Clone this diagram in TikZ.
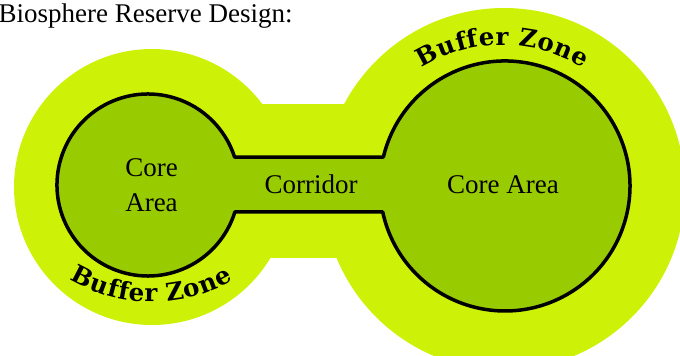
\documentclass[tikz,border=0pt]{standalone}
\usepackage{fontspec}
\setmainfont{Liberation Serif}
\newfontfamily\bufferfont{DejaVu Serif}
\usetikzlibrary{decorations.text}
\definecolor{buffer}{RGB}{205,242,8}
\definecolor{core}{RGB}{153,204,0}
\begin{document}
\begin{tikzpicture}[x=1pt,y=-1pt,
  bufferfill/.style={fill=buffer,draw=none},
  corefill/.style={fill=core,draw=black,line width=3.5pt,line join=round},
  lbl/.style={font=\fontsize{27}{34.3}\selectfont,inner sep=0pt,align=center},
  arctext/.style={decoration={text along path,text align=fit to path,
     text={|\bufferfont\bfseries\fontsize{24.5}{24.5}\selectfont|#1}},decorate}]
\useasboundingbox (0,0) rectangle (680,356);
% buffer zone
\path[bufferfill] (152,187) circle[radius=138];
\path[bufferfill] (504,189) circle[radius=181];
\path[bufferfill] (152,104) rectangle (504,258);
% core areas joined by the corridor
\path[corefill] (234.6,157) -- (383.4,157)
  arc[start angle=193.4,end angle=528,radius=125]
  -- (234.9,211.9)
  arc[start angle=17.2,end angle=342.1,radius=91] -- cycle;
% labels
\node[lbl,anchor=base west] (title) at (-1.5,22.7) {Biosphere Reserve Design:};
\node[lbl,anchor=base] (coreL) at (151.5,211) {Core\\Area};
\node[lbl,anchor=base] (corridor) at (311,193) {Corridor};
\node[lbl,anchor=base] (coreR) at (503,193) {Core Area};
\path[arctext={Buffer Zone}] (503,198) ++(238.1:153)
  arc[start angle=238.1,end angle=301.6,radius=153];
\path[arctext={Buffer Zone}] (152,142) ++(120.9:160)
  arc[start angle=120.9,end angle=59.6,radius=160];
\end{tikzpicture}
\end{document}
